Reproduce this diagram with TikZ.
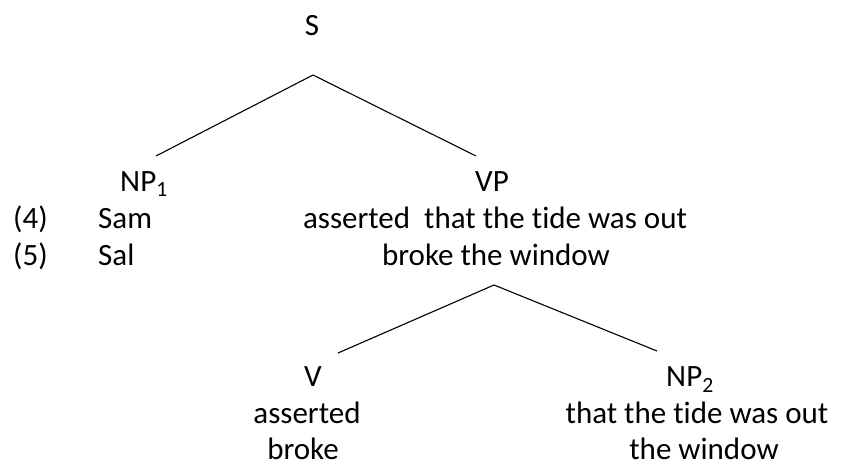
\documentclass[tikz,border=0pt]{standalone}
\usepackage{fontspec}
\setmainfont[Ligatures=NoCommon]{Carlito}
\usetikzlibrary{positioning}

\begin{document}
\begin{tikzpicture}[x=1pt,y=-1pt,font=\fontsize{31}{37}\selectfont,
    word/.style={anchor=base,inner sep=0pt},
    branch/.style={line width=1.1pt}]
    \useasboundingbox (0,0) rectangle (845,466);
    % upper tree
    \node[word] (s) at (312,35) {S};
    \coordinate (s-top) at (313,75);
    \coordinate (np1-top) at (156,156);
    \coordinate (vp-top) at (476,156);
    \draw[branch] (np1-top) -- (s-top) -- (vp-top);
    \node[word] (np1) at (144,191.5) {NP\textsubscript{1}};
    \node[word] (vp) at (492,191.5) {VP};
    % the two sentences
    \foreach \n/\subj/\y in {4/Sam/228,5/Sal/265}
        {\node[word,anchor=base west] (num\n) at (13,\y) {(\n)}; \node[word,anchor=base west] (subj\n) at (98,\y) {\subj};}
    \node[word] (pred4) at (495,228) {asserted~ that the tide was out};
    \node[word] (pred5) at (496,265) {broke the window};
    % lower tree
    \coordinate (vp-low) at (494,285);
    \coordinate (v-top) at (338,353);
    \coordinate (np2-top) at (657,351);
    \draw[branch] (v-top) -- (vp-low) -- (np2-top);
    \node[word] (v) at (313,386.5) {V};
    \node[word] (np2) at (690,386.5) {NP\textsubscript{2}};
    \node[word] (verb4) at (307,423) {asserted};
    \node[word] (verb5) at (303,459.5) {broke};
    \node[word] (obj4) at (697,423) {that the tide was out};
    \node[word] (obj5) at (704,459.5) {the window};
\end{tikzpicture}
\end{document}
